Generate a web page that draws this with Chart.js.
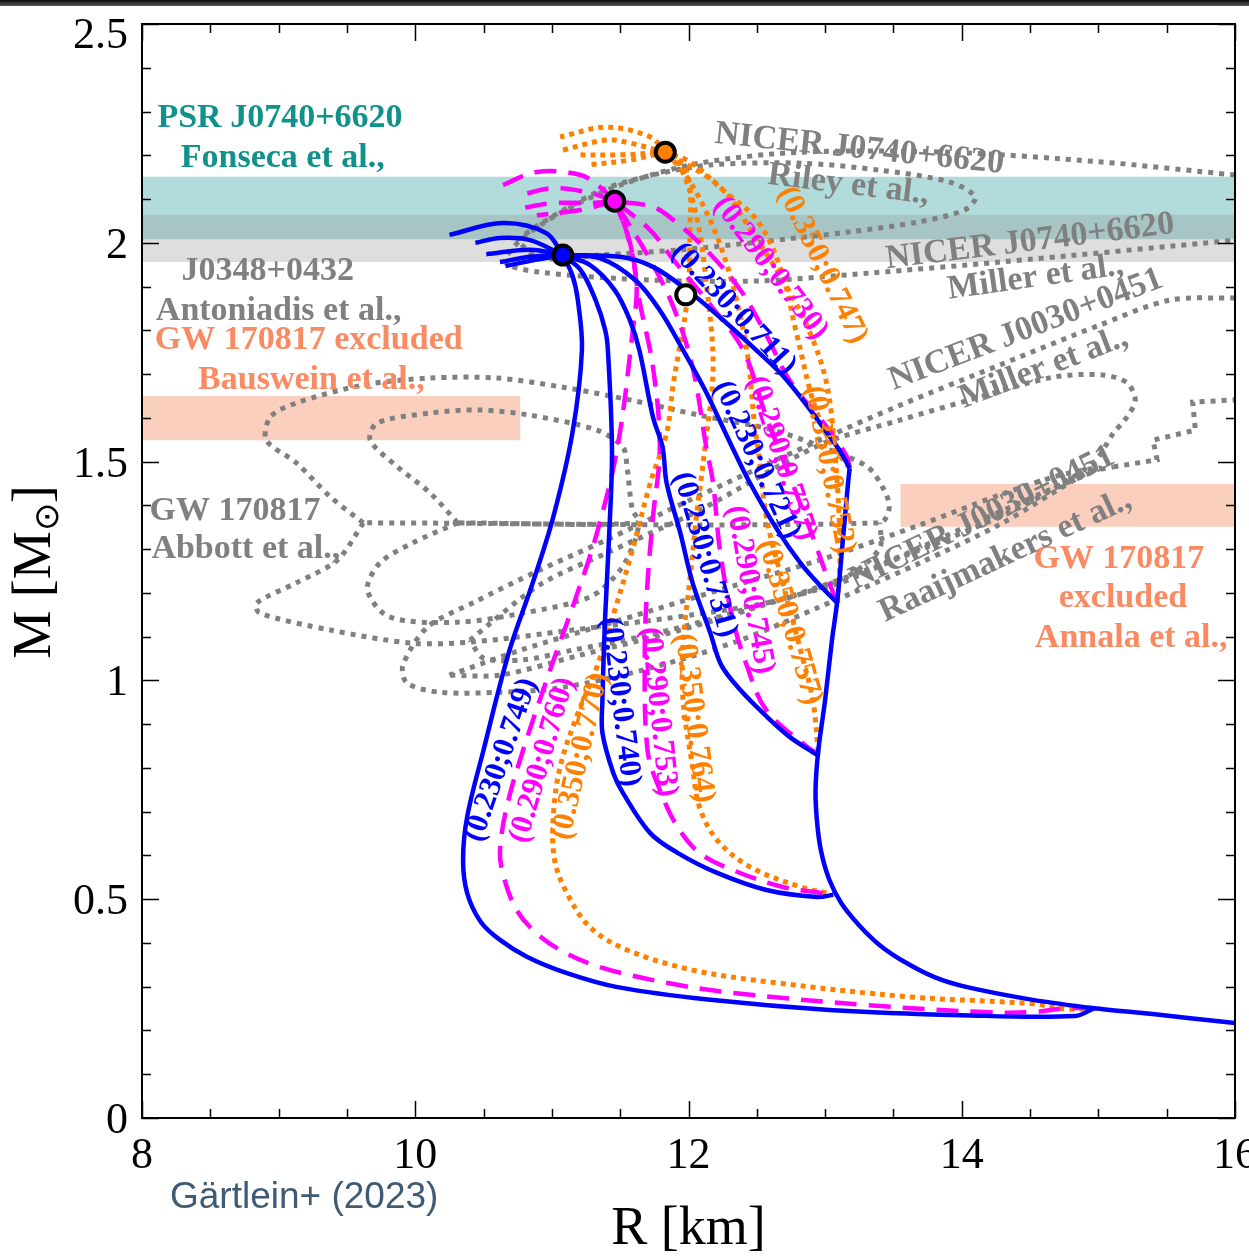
<!DOCTYPE html>
<html>
<head>
<meta charset="utf-8">
<title>Mass-radius relations</title>
<script src="https://cdn.jsdelivr.net/npm/chart.js@4.4.0/dist/chart.umd.min.js"></script>
<style>
  html, body { margin: 0; padding: 0; background: #fff; }
  #wrap { position: relative; width: 1249px; height: 1259px; overflow: hidden; }
  #topbar { position: absolute; left: 0; top: 0; width: 1249px; height: 6px; background: linear-gradient(#0a0a0a, #5a5a5a); z-index: 2; }
  canvas { position: absolute; left: 0; top: 0; }
  #credit { position: absolute; left: 170px; top: 1175px; line-height: 40px; font: 37px "Liberation Sans", Arial, sans-serif; color: #3f5a73; }
</style>
</head>
<body>
<div id="wrap">
  <div id="topbar"></div>
  <canvas id="mr" width="1249" height="1259"></canvas>
  <div id="credit">Gärtlein+ (2023)</div>
</div>
<script>
'use strict';

// axis ticks
const xTicks = [8, 10, 12, 14, 16];
const yTicks = [0, 0.5, 1, 1.5, 2, 2.5];
const yTickLabels = ['0', '0.5', '1', '1.5', '2', '2.5'];

// constraint bands: [R range], [M range]
const fonsecaM = [2.008, 2.151];
const antoniadisM = [1.956, 2.064];
const bausweinR = [8, 10.77];
const bausweinM = [1.549, 1.650];
const annalaR = [13.55, 16];
const annalaM = [1.351, 1.449];

// M-R curves, [R km, M Msun]
const hadronic = [[16.00,0.217],[15.38,0.238],[14.97,0.251],[14.52,0.270],[14.04,0.299],[13.80,0.322],[13.58,0.357],[13.40,0.395],[13.25,0.440],[13.12,0.490],[13.03,0.545],[12.97,0.610],[12.94,0.680],[12.93,0.750],[12.95,0.840],[13.00,0.955],[13.05,1.092],[13.09,1.184],[13.13,1.321],[13.17,1.458],[13.18,1.485]];

const blue711 = [[13.18,1.485],[13.09,1.533],[12.72,1.686],[12.47,1.762],[12.23,1.830],[11.99,1.892],[11.74,1.945],[11.50,1.968],[11.08,1.972]];
const blue721 = [[13.09,1.177],[12.96,1.218],[12.82,1.268],[12.65,1.344],[12.45,1.451],[12.32,1.533],[12.12,1.664],[11.96,1.755],[11.79,1.846],[11.61,1.915],[11.35,1.965],[11.08,1.972]];
const blue731 = [[12.94,0.830],[12.74,0.871],[12.56,0.921],[12.38,0.978],[12.24,1.035],[12.16,1.108],[12.03,1.223],[11.94,1.337],[11.84,1.451],[11.81,1.533],[11.74,1.602],[11.64,1.755],[11.57,1.824],[11.46,1.892],[11.28,1.949],[11.08,1.972]];
const blue740 = [[13.06,0.510],[12.94,0.505],[12.57,0.521],[12.21,0.560],[11.92,0.606],[11.72,0.651],[11.52,0.743],[11.45,0.788],[11.37,0.880],[11.37,0.955],[11.39,1.145],[11.42,1.337],[11.44,1.527],[11.41,1.755],[11.39,1.801],[11.32,1.869],[11.21,1.938],[11.08,1.972]];
const blue749 = [[14.97,0.251],[14.83,0.233],[13.99,0.235],[13.03,0.247],[12.16,0.270],[11.48,0.299],[11.11,0.331],[10.82,0.368],[10.62,0.407],[10.48,0.448],[10.38,0.514],[10.35,0.590],[10.38,0.688],[10.50,0.841],[10.69,1.069],[10.86,1.223],[11.01,1.373],[11.15,1.565],[11.22,1.755],[11.19,1.869],[11.15,1.926],[11.08,1.972]];
const blueTails = [
  [[11.08,1.972],[10.96,2.022],[10.64,2.045],[10.25,2.018]],
  [[11.08,1.972],[10.84,2.006],[10.62,2.011],[10.44,2.000]],
  [[11.08,1.972],[10.84,1.984],[10.52,1.974]],
  [[11.08,1.972],[10.84,1.968],[10.62,1.956]],
  [[11.08,1.972],[10.88,1.961],[10.66,1.947]]
];

const mag730 = [[13.18,1.485],[13.16,1.511],[13.03,1.572],[12.74,1.686],[12.57,1.789],[12.38,1.892],[12.13,1.984],[11.89,2.052],[11.74,2.082],[11.46,2.095]];
const mag737 = [[13.09,1.177],[13.03,1.223],[12.91,1.328],[12.76,1.451],[12.57,1.602],[12.40,1.755],[12.16,1.858],[11.89,1.961],[11.72,2.029],[11.46,2.095]];
const mag745 = [[12.96,0.830],[12.87,0.848],[12.57,0.932],[12.43,1.031],[12.32,1.145],[12.23,1.298],[12.18,1.451],[12.13,1.533],[12.03,1.716],[11.89,1.853],[11.72,1.961],[11.46,2.095]];
const mag753 = [[12.98,0.514],[12.69,0.528],[12.32,0.567],[12.08,0.606],[11.92,0.665],[11.79,0.750],[11.70,0.841],[11.68,1.069],[11.70,1.223],[11.74,1.373],[11.79,1.533],[11.74,1.716],[11.64,1.869],[11.57,2.002],[11.46,2.095]];
const mag760 = [[14.97,0.251],[14.77,0.251],[14.52,0.242],[14.16,0.242],[13.31,0.258],[12.32,0.286],[11.84,0.309],[11.35,0.345],[11.06,0.384],[10.86,0.430],[10.73,0.482],[10.64,0.560],[10.62,0.612],[10.67,0.711],[10.79,0.841],[11.00,1.035],[11.17,1.184],[11.33,1.337],[11.48,1.533],[11.59,1.794],[11.62,1.908],[11.55,2.022],[11.46,2.095]];
const magTails = [
  [[11.46,2.095],[11.35,2.128],[11.21,2.155],[10.89,2.162],[10.64,2.132]],
  [[11.46,2.095],[11.28,2.114],[11.01,2.125],[10.77,2.109]],
  [[11.46,2.095],[11.28,2.091],[11.01,2.091],[10.79,2.080]],
  [[11.46,2.095],[11.21,2.075],[10.89,2.063]]
];

const ora747 = [[13.18,1.485],[13.03,1.549],[12.91,1.641],[12.79,1.794],[12.67,1.945],[12.50,2.052],[12.25,2.121],[12.01,2.185],[11.83,2.207]];
const ora752 = [[13.09,1.177],[13.11,1.298],[13.07,1.527],[13.01,1.680],[12.89,1.794],[12.72,1.899],[12.47,2.022],[12.23,2.128],[11.83,2.207]];
const ora757 = [[12.95,0.836],[12.91,0.955],[12.82,1.069],[12.69,1.223],[12.57,1.373],[12.52,1.504],[12.48,1.595],[12.43,1.748],[12.32,1.908],[12.18,2.036],[11.99,2.150],[11.83,2.207]];
const ora764 = [[13.01,0.514],[12.82,0.528],[12.45,0.574],[12.21,0.635],[12.08,0.711],[12.03,0.802],[11.96,0.955],[11.96,1.085],[12.01,1.229],[12.06,1.380],[12.12,1.531],[12.18,1.716],[12.13,1.908],[12.06,2.059],[11.94,2.173],[11.83,2.207]];
const ora770 = [[14.97,0.251],[14.77,0.249],[14.52,0.261],[13.61,0.277],[12.64,0.309],[12.03,0.338],[11.55,0.384],[11.28,0.436],[11.11,0.514],[11.02,0.590],[11.01,0.688],[11.06,0.802],[11.18,0.916],[11.33,1.031],[11.46,1.160],[11.59,1.298],[11.72,1.451],[11.84,1.565],[11.89,1.680],[11.99,1.869],[12.01,2.022],[11.99,2.160],[11.83,2.207]];
const oraTails = [
  [[11.83,2.207],[11.72,2.242],[11.40,2.264],[11.06,2.242]],
  [[11.83,2.207],[11.57,2.228],[11.40,2.235],[11.08,2.212]],
  [[11.83,2.207],[11.50,2.201],[11.18,2.201]],
  [[11.83,2.207],[11.57,2.189],[11.26,2.178]]
];

// maximum-mass markers
const maxBlue = [11.08, 1.972];
const maxMag = [11.46, 2.095];
const maxOra = [11.83, 2.207];
const maxHad = [11.98, 1.881];

// observational contours
const rileyOuter = [[16.00,2.155],[15.01,2.185],[13.91,2.207],[12.82,2.207],[12.08,2.182],[11.50,2.132],[11.06,2.068],[10.77,2.006],[10.66,1.956],[10.91,1.933],[11.72,1.915],[12.52,1.913],[13.33,1.931],[14.28,1.956],[16.00,2.006]];
const rileyInner = [[10.74,2.006],[10.96,2.052],[11.37,2.121],[11.74,2.155],[12.16,2.178],[12.82,2.182],[13.40,2.166],[13.91,2.139],[14.10,2.105],[14.02,2.075],[13.69,2.048],[13.18,2.025],[12.52,2.002],[11.94,1.984],[11.35,1.972],[10.91,1.965],[10.74,2.006]];
const gwUpperOuter = [[9.62,1.360],[9.38,1.419],[9.13,1.497],[8.91,1.549],[8.94,1.602],[9.13,1.634],[9.62,1.675],[10.11,1.691],[10.60,1.691],[11.08,1.670],[11.57,1.641],[12.08,1.606],[12.62,1.572],[13.03,1.527],[13.31,1.488],[13.42,1.442],[13.47,1.396],[13.40,1.360],[9.62,1.360]];
const gwUpperInner = [[10.31,1.360],[10.11,1.428],[9.87,1.488],[9.67,1.549],[9.72,1.588],[10.11,1.611],[10.47,1.618],[10.84,1.606],[11.33,1.572],[11.52,1.533],[11.55,1.488],[11.59,1.389],[11.64,1.360],[10.31,1.360]];
const gwLowerOuter = [[9.62,1.360],[9.43,1.275],[9.13,1.223],[8.84,1.177],[8.86,1.154],[9.38,1.115],[9.98,1.085],[10.42,1.088],[11.15,1.115],[12.01,1.149],[12.67,1.184],[13.18,1.241],[13.40,1.303],[13.40,1.360]];
const gwLowerInner = [[10.31,1.360],[9.98,1.314],[9.74,1.268],[9.65,1.207],[9.81,1.145],[10.31,1.133],[10.79,1.154],[11.28,1.191],[11.50,1.252],[11.61,1.321],[11.64,1.360]];
const millerOuter = [[16.00,1.874],[15.52,1.869],[15.01,1.812],[14.28,1.721],[13.55,1.629],[12.96,1.549],[12.01,1.412],[11.40,1.321],[10.91,1.252],[10.42,1.177],[10.09,1.122],[9.91,1.035],[9.94,0.994],[10.18,0.973],[10.62,0.973],[11.06,0.983],[11.72,1.028],[12.38,1.092],[12.96,1.168],[13.20,1.200],[13.69,1.268],[14.30,1.360],[14.92,1.474],[15.11,1.488]];
const millerStep = [[15.11,1.488],[15.43,1.504],[15.40,1.549],[15.71,1.572],[15.69,1.636],[16.00,1.641]];
const millerInner = [[10.40,1.092],[10.91,1.218],[11.40,1.291],[12.08,1.389],[12.96,1.538],[13.55,1.595],[14.06,1.641],[14.67,1.693],[15.03,1.698],[15.21,1.680],[15.27,1.641],[15.21,1.602],[15.11,1.565],[14.96,1.497],[14.43,1.396],[13.93,1.328],[13.45,1.268],[13.11,1.223],[12.52,1.172],[12.01,1.127],[11.64,1.099],[11.15,1.069],[10.79,1.047],[10.50,1.051],[10.40,1.092]];
const raaijInner = [[10.25,1.012],[10.77,1.069],[11.50,1.138],[12.23,1.207],[12.96,1.275],[13.69,1.355],[14.28,1.424],[14.72,1.469],[15.01,1.485],[14.64,1.435],[14.06,1.355],[13.40,1.264],[12.67,1.184],[11.94,1.115],[11.21,1.058],[10.62,1.012],[10.25,1.012]];

const TEAL = '#10928b', GRAY = '#808080', SALMON = '#fa8a62';
const BLUE = '#0000ff', MAGENTA = '#ff00ff', ORANGE = '#ff8000';

// text notes: text, R, M, rotation (deg), colour
const notes = [
  ['PSR J0740+6620', 9.01, 2.285, 0, TEAL],
  ['Fonseca et al.,', 9.03, 2.194, 0, TEAL],
  ['J0348+0432', 8.92, 1.936, 0, GRAY],
  ['Antoniadis et al.,', 9.00, 1.844, 0, GRAY],
  ['GW 170817 excluded', 9.22, 1.778, 0, SALMON],
  ['Bauswein et al.,', 9.24, 1.686, 0, SALMON],
  ['GW 170817', 8.68, 1.387, 0, GRAY],
  ['Abbott et al.,', 8.76, 1.300, 0, GRAY],
  ['GW 170817', 15.15, 1.277, 0, SALMON],
  ['excluded', 15.18, 1.188, 0, SALMON],
  ['Annala et al.,', 15.24, 1.097, 0, SALMON],
  ['NICER J0740+6620', 13.25, 2.214, 6, GRAY],
  ['Riley et al.,', 13.17, 2.132, 7, GRAY],
  ['NICER J0740+6620', 14.50, 2.002, -7, GRAY],
  ['Miller et al.,', 14.54, 1.920, -8, GRAY],
  ['NICER J0030+0451', 14.47, 1.801, -21, GRAY],
  ['Miller et al.,', 14.60, 1.714, -21, GRAY],
  ['NICER J0030+0451', 14.15, 1.371, -26, GRAY],
  ['Raaijmakers et al.,', 14.32, 1.284, -25, GRAY]
];

const curveNotes = [
  ['(0.230;0.749)', 10.63, 0.818, -71, BLUE],
  ['(0.290;0.760)', 10.93, 0.818, -74, MAGENTA],
  ['(0.350;0.770)', 11.21, 0.827, -77, ORANGE],
  ['(0.230;0.740)', 11.50, 0.951, 83, BLUE],
  ['(0.290;0.753)', 11.78, 0.928, 84, MAGENTA],
  ['(0.350;0.764)', 12.04, 0.914, 83, ORANGE],
  ['(0.230;0.731)', 12.12, 1.287, 74, BLUE],
  ['(0.290;0.745)', 12.45, 1.207, 80, MAGENTA],
  ['(0.350;0.757)', 12.74, 1.133, 74, ORANGE],
  ['(0.230;0.721)', 12.50, 1.504, 65, BLUE],
  ['(0.290;0.737)', 12.68, 1.508, 72, MAGENTA],
  ['(0.350;0.752)', 13.03, 1.481, 79, ORANGE],
  ['(0.230;0.711)', 12.33, 1.849, 47, BLUE],
  ['(0.290;0.730)', 12.60, 1.942, 53, MAGENTA],
  ['(0.350;0.747)', 12.98, 1.949, 64, ORANGE]
];

const toXY = arr => arr.map(([x, y]) => ({ x, y }));

const datasets = [];

function addBand(rr, mm, color, order) {
  const lo = datasets.length;
  const edge = { showLine: true, borderWidth: 0, borderColor: 'transparent', pointRadius: 0, order };
  datasets.push({ ...edge, data: toXY([[rr[0], mm[0]], [rr[1], mm[0]]]) });
  datasets.push({ ...edge, data: toXY([[rr[0], mm[1]], [rr[1], mm[1]]]), fill: lo, backgroundColor: color });
}

const solidBlue = { borderColor: BLUE, borderWidth: 4.5, order: 1 };
const dashMag = { borderColor: MAGENTA, borderWidth: 4.5, borderDash: [22, 12], order: 2 };
const dotOra = { borderColor: ORANGE, borderWidth: 5, borderDash: [5, 5], order: 3 };
const dotGray = { borderColor: GRAY, borderWidth: 5, borderDash: [5, 6], order: 5 };

function addCurve(arr, style, tension = 0.35) {
  datasets.push({ data: toXY(arr), showLine: true, pointRadius: 0, fill: false, tension, borderCapStyle: 'butt', ...style });
}

function addMarker(pt, color) {
  datasets.push({
    data: toXY([pt]), showLine: false, pointRadius: 9.5, pointHoverRadius: 9.5,
    pointBorderWidth: 4, pointBorderColor: '#000', pointBackgroundColor: color, order: 0
  });
}

addBand([8, 16], fonsecaM, '#b2dcdb', 12);
addBand([8, 16], antoniadisM, 'rgba(145,145,145,0.3)', 11);
addBand(bausweinR, bausweinM, '#fbcfbe', 11);
addBand(annalaR, annalaM, '#fbcfbe', 11);

[rileyOuter, rileyInner, gwUpperOuter, gwUpperInner, gwLowerOuter, gwLowerInner,
 millerOuter, millerInner, raaijInner].forEach(c => addCurve(c, dotGray, 0.3));
addCurve(millerStep, dotGray, 0);

[ora747, ora752, ora757, ora764, ora770, ...oraTails].forEach(c => addCurve(c, dotOra));
[mag730, mag737, mag745, mag753, mag760, ...magTails].forEach(c => addCurve(c, dashMag));
addCurve(hadronic, solidBlue, 0.25);
[blue711, blue721, blue731, blue740, blue749, ...blueTails].forEach(c => addCurve(c, solidBlue));

addMarker(maxBlue, BLUE);
addMarker(maxMag, MAGENTA);
addMarker(maxOra, ORANGE);
addMarker(maxHad, '#ffffff');

const SERIF = '"Liberation Serif", "Times New Roman", serif';

const decorations = {
  id: 'decorations',
  afterDraw(chart) {
    const { ctx, chartArea: a, scales: { x, y } } = chart;
    ctx.save();

    // annotation texts
    ctx.textAlign = 'center';
    ctx.textBaseline = 'middle';
    const drawNote = (n, size) => {
      const [text, r, m, rot, color] = n;
      ctx.save();
      ctx.translate(x.getPixelForValue(r), y.getPixelForValue(m));
      ctx.rotate(rot * Math.PI / 180);
      ctx.fillStyle = color;
      ctx.font = `bold ${size}px ${SERIF}`;
      ctx.fillText(text, 0, 0);
      ctx.restore();
    };
    notes.forEach(n => drawNote(n, 34));
    curveNotes.forEach(n => drawNote(n, 31));

    // frame and inward ticks
    ctx.setLineDash([]);
    ctx.strokeStyle = '#000';
    ctx.lineWidth = 2;
    ctx.strokeRect(a.left, a.top, a.right - a.left, a.bottom - a.top);
    ctx.lineWidth = 1.5;
    ctx.beginPath();
    for (let i = 0; i <= 16; i++) {
      const v = 8 + i * 0.5;
      const len = xTicks.includes(v) ? 17 : 9;
      const px = Math.round(x.getPixelForValue(v)) + 0.5;
      ctx.moveTo(px, a.bottom); ctx.lineTo(px, a.bottom - len);
      ctx.moveTo(px, a.top); ctx.lineTo(px, a.top + len);
    }
    for (let i = 0; i <= 25; i++) {
      const v = i / 10;
      const len = i % 5 === 0 ? 17 : 9;
      const py = Math.round(y.getPixelForValue(v)) + 0.5;
      ctx.moveTo(a.left, py); ctx.lineTo(a.left + len, py);
      ctx.moveTo(a.right, py); ctx.lineTo(a.right - len, py);
    }
    ctx.stroke();

    // tick labels
    ctx.fillStyle = '#000';
    ctx.font = `44px ${SERIF}`;
    ctx.textBaseline = 'alphabetic';
    ctx.textAlign = 'center';
    xTicks.forEach(v => ctx.fillText(String(v), x.getPixelForValue(v), a.bottom + 50));
    ctx.textAlign = 'right';
    yTicks.forEach((v, i) => {
      const py = Math.max(y.getPixelForValue(v), a.top + 9);
      ctx.fillText(yTickLabels[i], a.left - 14, py + 15);
    });

    // axis titles
    ctx.font = `54px ${SERIF}`;
    ctx.textAlign = 'center';
    ctx.fillText('R [km]', (a.left + a.right) / 2, a.bottom + 126);

    ctx.save();
    ctx.translate(50, (a.top + a.bottom) / 2 + 1);
    ctx.rotate(-Math.PI / 2);
    ctx.textAlign = 'left';
    const big = `54px ${SERIF}`, small = `34px ${SERIF}`;
    ctx.font = big;
    const w1 = ctx.measureText('M [M').width;
    const w3 = ctx.measureText(']').width;
    ctx.font = small;
    const w2 = ctx.measureText('\u2299').width;
    let cx = -(w1 + w2 + w3) / 2;
    ctx.font = big; ctx.fillText('M [M', cx, 0); cx += w1;
    ctx.font = small; ctx.fillText('\u2299', cx, 8); cx += w2;
    ctx.font = big; ctx.fillText(']', cx, 0);
    ctx.restore();

    ctx.restore();
  }
};

new Chart(document.getElementById('mr'), {
  type: 'scatter',
  data: { datasets },
  options: {
    responsive: false,
    animation: false,
    events: [],
    layout: { padding: { left: 142, right: 14, top: 24, bottom: 141 } },
    scales: {
      x: { type: 'linear', min: 8, max: 16, display: false },
      y: { type: 'linear', min: 0, max: 2.5, display: false }
    },
    plugins: { legend: { display: false }, tooltip: { enabled: false } }
  },
  plugins: [decorations]
});
</script>
</body>
</html>
